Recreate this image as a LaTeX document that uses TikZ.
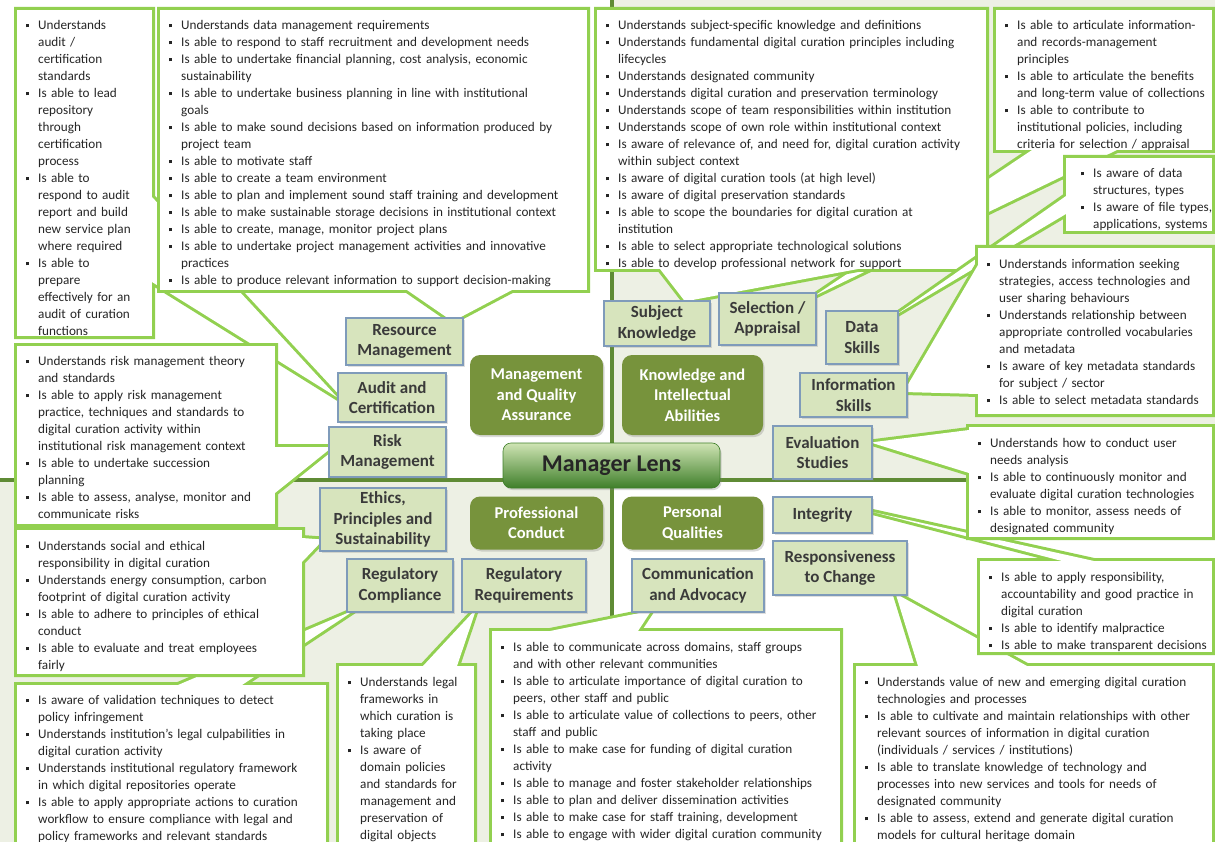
\documentclass[tikz,border=0pt]{standalone}
\usepackage{fontspec}
\setmainfont{Carlito}
\usetikzlibrary{calc}
\usetikzlibrary{shadows}
\definecolor{calgreen}{HTML}{92D050}
\definecolor{labfill}{HTML}{D7E4BD}
\definecolor{labedge}{HTML}{7F9BBA}
\definecolor{labtext}{HTML}{3A3A3A}
\definecolor{olive}{HTML}{77933C}
\definecolor{quadline}{HTML}{5F8B35}
\definecolor{quadshade}{HTML}{EDF0E4}
\definecolor{lensTop}{HTML}{CFE4B4}
\definecolor{lensMid}{HTML}{8DBE62}
\definecolor{lensBot}{HTML}{3F7F2A}
\pgfdeclarelayer{bg}
\pgfdeclarelayer{callouts}
\pgfsetlayers{bg,callouts,main}
\newcommand{\callout}[5]{ \draw[calloutline] #1 rectangle #2 #3 -- #5 -- #4; \fill[white] #1 rectangle #2; \fill[white] #3 -- #5 -- #4 -- cycle;}
\newcommand{\itm}{\par\leftskip=13pt\noindent\llap{\makebox[13pt][l]{\strut\hspace{1pt}\rule[1.8pt]{3.2pt}{3.2pt}}}}
\tikzset{
  calloutline/.style={draw=calgreen, line width=6pt, line join=miter},
  calltext/.style={anchor=north west, inner sep=0pt, align=left, text width=#1, font=\fontsize{13.2}{17}\selectfont, text=black!85},
  lab/.style={draw=labedge, fill=labfill, line width=1.2pt, text=labtext, align=center, inner sep=0pt, font=\fontsize{17}{20.5}\selectfont\bfseries, drop shadow={opacity=0.25, shadow xshift=1.5pt, shadow yshift=-1.5pt}},
  cat/.style={fill=olive, rounded corners=10pt, text=white, align=center, inner sep=0pt, font=\fontsize{16.5}{20.5}\selectfont\bfseries, drop shadow={opacity=0.3, shadow xshift=1.5pt, shadow yshift=-2pt}},
  lens/.style={rounded corners=8pt, top color=lensTop, middle color=lensMid, bottom color=lensBot, draw=lensBot, line width=0.6pt, text=black!85, font=\fontsize{24}{28}\selectfont\bfseries, drop shadow={opacity=0.3, shadow xshift=1.5pt, shadow yshift=-2pt}}
}
\begin{document}
\begin{tikzpicture}[x=1pt,y=-1pt]
\useasboundingbox (0,0) rectangle (1215,842);
% quadrants
\coordinate (vtop) at (612,0);
\coordinate (vbot) at (612,842);
\coordinate (hleft) at (0,480);
\coordinate (hright) at (1215,480);
\begin{pgfonlayer}{bg}
  \fill[quadshade] (vtop) rectangle (hright);
  \fill[quadshade] (hleft) rectangle (vbot);
  \draw[quadline, line width=4pt] (vtop) -- (vbot);
  \draw[quadline, line width=4pt] (hleft) -- (hright);
\end{pgfonlayer}

% competence groups
\node[cat, minimum width=133pt, minimum height=80pt] (mqa) at (536.5,395) {Management\\and Quality\\Assurance};
\node[cat, minimum width=141pt, minimum height=80pt] (kia) at (692.5,395) {Knowledge and\\Intellectual\\Abilities};
\node[cat, minimum width=133pt, minimum height=53pt] (pc) at (536.5,523) {Professional\\Conduct};
\node[cat, minimum width=141pt, minimum height=53pt] (pq) at (692.5,523) {Personal\\Qualities};
\node[lens, minimum width=217pt, minimum height=45pt] (lens) at (611.5,465.5) {Manager Lens};

% labels
\node[lab, minimum width=117pt, minimum height=47pt] (reslab) at (404.5,341.5) {Resource\\Management};
\node[lab, minimum width=108pt, minimum height=49pt] (audlab) at (392,397.5) {Audit and\\Certification};
\node[lab, minimum width=117pt, minimum height=50pt] (risklab) at (387.5,452) {Risk\\Management};
\node[lab, minimum width=126pt, minimum height=63pt] (ethlab) at (383,519.5) {Ethics,\\Principles and\\Sustainability};
\node[lab, minimum width=106pt, minimum height=53pt] (complab) at (400,585.5) {Regulatory\\Compliance};
\node[lab, minimum width=124pt, minimum height=53pt] (reqlab) at (524,585.5) {Regulatory\\Requirements};
\node[lab, minimum width=132pt, minimum height=53pt] (commlab) at (698,585.5) {Communication\\and Advocacy};
\node[lab, minimum width=134pt, minimum height=54pt] (resplab) at (840,568) {Responsiveness\\to Change};
\node[lab, minimum width=99pt, minimum height=36pt] (intlab) at (822.5,515) {Integrity};
\node[lab, minimum width=99pt, minimum height=53pt] (evallab) at (822.5,452.5) {Evaluation\\Studies};
\node[lab, minimum width=107pt, minimum height=44pt] (infolab) at (853.5,395) {Information\\Skills};
\node[lab, minimum width=72pt, minimum height=53pt] (datalab) at (862,337.5) {Data\\Skills};
\node[lab, minimum width=97pt, minimum height=52pt] (sellab) at (767.5,319) {Selection /\\Appraisal};
\node[lab, minimum width=106pt, minimum height=45pt] (subjlab) at (657,323.5) {Subject\\Knowledge};

\begin{pgfonlayer}{callouts}
% left side
\callout{(17,10)}{(152,336)}{(152,197)}{(152,282)}{(audlab.west)}
\node[calltext=140pt] (audtxt) at (25,12) {\itm Understands\\audit /\\certification\\standards
  \itm Is able to lead\\repository\\through\\certification\\process
  \itm Is able to\\respond to audit\\report and build\\new service plan\\where required
  \itm Is able to\\prepare\\effectively for an\\audit of curation\\functions\par};
\callout{(160,10)}{(587,290)}{(407,290)}{(512,290)}{($(reslab.north east)+(-11,4)$)}
\node[calltext=440pt] (restxt) at (168,12) {\itm Understands data management requirements
  \itm Is able to respond to staff recruitment and development needs
  \itm Is able to undertake financial planning, cost analysis, economic\\sustainability
  \itm Is able to undertake business planning in line with institutional\\goals
  \itm Is able to make sound decisions based on information produced by\\project team
  \itm Is able to motivate staff
  \itm Is able to create a team environment
  \itm Is able to plan and implement sound staff training and development
  \itm Is able to make sustainable storage decisions in institutional context
  \itm Is able to create, manage, monitor project plans
  \itm Is able to undertake project management activities and innovative\\practices
  \itm Is able to produce relevant information to support decision-making\par};
\callout{(17,346)}{(275,524)}{(275,447)}{(275,493)}{($(risklab.west)+(4,-5)$)}
\node[calltext=275pt] (risktxt) at (25,348) {\itm Understands risk management theory\\and standards
  \itm Is able to apply risk management\\practice, techniques and standards to\\digital curation activity within\\institutional risk management context
  \itm Is able to undertake succession\\planning
  \itm Is able to assess, analyse, monitor and\\communicate risks\par};
\callout{(17,685)}{(326,860)}{(178,685)}{(242,685)}{($(complab.south west)+(9,-3)$)}
\node[calltext=325pt] (valtxt) at (25,687) {\itm Is aware of validation techniques to detect\\policy infringement
  \itm Understands institution's legal culpabilities in\\digital curation activity
  \itm Understands institutional regulatory framework\\in which digital repositories operate
  \itm Is able to apply appropriate actions to curation\\workflow to ensure compliance with legal and\\policy frameworks and relevant standards\par};
\callout{(17,530)}{(302,674)}{(302,538)}{(302,562)}{($(ethlab.south west)+(4,-12)$)}
\node[calltext=300pt] (ethtxt) at (25,533) {\itm Understands social and ethical\\responsibility in digital curation
  \itm Understands energy consumption, carbon\\footprint of digital curation activity
  \itm Is able to adhere to principles of ethical\\conduct
  \itm Is able to evaluate and treat employees\\fairly\par};
% bottom
\callout{(339,666)}{(474,860)}{(423,666)}{(457,666)}{($(reqlab.south west)+(15,-4)$)}
\node[calltext=150pt] (legtxt) at (347,669) {\itm Understands legal\\frameworks in\\which curation is\\taking place
  \itm Is aware of\\domain policies\\and standards for\\management and\\preservation of\\digital objects\par};
\callout{(492,631)}{(840,860)}{(550,631)}{(638,631)}{($(commlab.south west)+(20,-2)$)}
\node[calltext=370pt] (commtxt) at (500,634) {\itm Is able to communicate across domains, staff groups\\and with other relevant communities
  \itm Is able to articulate importance of digital curation to\\peers, other staff and public
  \itm Is able to articulate value of collections to peers, other\\staff and public
  \itm Is able to make case for funding of digital curation\\activity
  \itm Is able to manage and foster stakeholder relationships
  \itm Is able to plan and deliver dissemination activities
  \itm Is able to make case for staff training, development
  \itm Is able to engage with wider digital curation community\par};
% right side
\callout{(856,666)}{(1212,860)}{(918,666)}{(1027,666)}{($(resplab.south east)+(-12,-2)$)}
\node[calltext=380pt] (resptxt) at (864,669) {\itm Understands value of new and emerging digital curation\\technologies and processes
  \itm Is able to cultivate and maintain relationships with other\\relevant sources of information in digital curation\\(individuals / services / institutions)
  \itm Is able to translate knowledge of technology and\\processes into new services and tools for needs of\\designated community
  \itm Is able to assess, extend and generate digital curation\\models for cultural heritage domain\par};
\callout{(980,561)}{(1212,652)}{(1062,561)}{(1094,561)}{($(intlab.east)+(0,-3)$)}
\node[calltext=260pt] (inttxt) at (988,564) {\itm Is able to apply responsibility,\\accountability and good practice in\\digital curation
  \itm Is able to identify malpractice
  \itm Is able to make transparent decisions\par};
\callout{(969,427)}{(1212,537)}{(969,430)}{(969,473)}{($(evallab.east)+(-2,-10)$)}
\node[calltext=265pt] (evaltxt) at (977,430) {\itm Understands how to conduct user\\needs analysis
  \itm Is able to continuously monitor and\\evaluate digital curation technologies
  \itm Is able to monitor, assess needs of\\designated community\par};
\callout{(996,10)}{(1212,150)}{(1032,150)}{(1117,150)}{($(sellab.north east)+(-3,4)$)}
\node[calltext=245pt] (rectxt) at (1004,12) {\itm Is able to articulate information-\\and records-management\\principles
  \itm Is able to articulate the benefits\\and long-term value of collections
  \itm Is able to contribute to\\institutional policies, including\\criteria for selection / appraisal\par};
\callout{(597,10)}{(986,269)}{(660,269)}{(858,269)}{($(subjlab.north)+(28,1)$)}
\node[calltext=420pt] (subjtxt) at (605,12) {\itm Understands subject-specific knowledge and definitions
  \itm Understands fundamental digital curation principles including\\lifecycles
  \itm Understands designated community
  \itm Understands digital curation and preservation terminology
  \itm Understands scope of team responsibilities within institution
  \itm Understands scope of own role within institutional context
  \itm Is aware of relevance of, and need for, digital curation activity\\within subject context
  \itm Is aware of digital curation tools (at high level)
  \itm Is aware of digital preservation standards
  \itm Is able to scope the boundaries for digital curation at\\institution
  \itm Is able to select appropriate technological solutions
  \itm Is able to develop professional network for support\par};
\callout{(1066,158)}{(1212,231)}{(1066,196)}{(1066,214)}{($(datalab.north east)+(-2,4)$)}
\node[calltext=150pt] (datatxt) at (1080,160) {\itm Is aware of data\\structures, types
  \itm Is aware of file types,\\applications, systems\par};
\callout{(978,248)}{(1212,414)}{(978,265)}{(978,394)}{($(infolab.east)+(-4,-3)$)}
\node[calltext=255pt] (infotxt) at (986,251) {\itm Understands information seeking\\strategies, access technologies and\\user sharing behaviours
  \itm Understands relationship between\\appropriate controlled vocabularies\\and metadata
  \itm Is aware of key metadata standards\\for subject / sector
  \itm Is able to select metadata standards\par};
\end{pgfonlayer}
\end{tikzpicture}
\end{document}
